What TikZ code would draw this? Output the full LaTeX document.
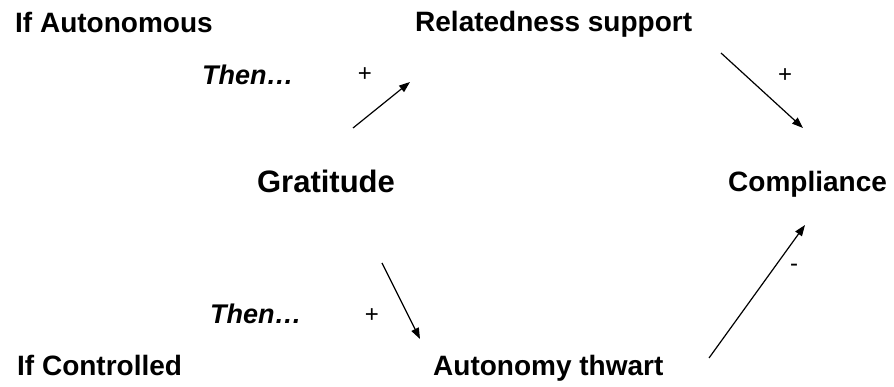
\documentclass[tikz,border=0pt]{standalone}
\usepackage{fontspec}
\setmainfont{Liberation Sans}
\usetikzlibrary{arrows.meta}
\begin{document}
\begin{tikzpicture}[x=1pt,y=1pt,
  lbl/.style={inner sep=0pt,font=\fontsize{28}{32}\selectfont\bfseries},
  glbl/.style={inner sep=0pt,font=\fontsize{31}{35}\selectfont\bfseries},
  thenlbl/.style={inner sep=0pt,font=\fontsize{27}{31}\selectfont\bfseries\itshape},
  sign/.style={inner sep=0pt,font=\fontsize{24}{28}\selectfont},
  conn/.style={line width=1.2pt,-{Triangle[length=11pt,width=8pt]}}]
\useasboundingbox (0,0) rectangle (894,387);
\node[lbl,anchor=base west] (ifA) at (15,354) {If Autonomous};
\node[lbl,anchor=base west] (rel) at (415,355) {Relatedness support};
\node[glbl,anchor=base] (grat) at (326,194) {Gratitude};
\node[lbl,anchor=base west] (comp) at (728,195) {Compliance};
\node[lbl,anchor=base west] (ifC) at (17,11) {If Controlled};
\node[lbl,anchor=base west] (aut) at (433,11) {Autonomy thwart};
\node[thenlbl,anchor=base west] (then1) at (202,302) {Then\ldots};
\node[thenlbl,anchor=base west] (then2) at (210,63) {Then\ldots};
\node[sign] (p1) at (365,312) {+};
\node[sign] (p2) at (785,311) {+};
\node[sign] (p3) at (372,71) {+};
\node[sign] (m1) at (794,119) {-};
\coordinate (a1s) at (353,259);
\coordinate (a1e) at (410,305);
\coordinate (a2s) at (721,334);
\coordinate (a2e) at (803,259);
\coordinate (a3s) at (382,124);
\coordinate (a3e) at (420,48);
\coordinate (a4s) at (709,29);
\coordinate (a4e) at (805,162);
\draw[conn] (a1s) -- (a1e);
\draw[conn] (a2s) -- (a2e);
\draw[conn] (a3s) -- (a3e);
\draw[conn] (a4s) -- (a4e);
\end{tikzpicture}
\end{document}
